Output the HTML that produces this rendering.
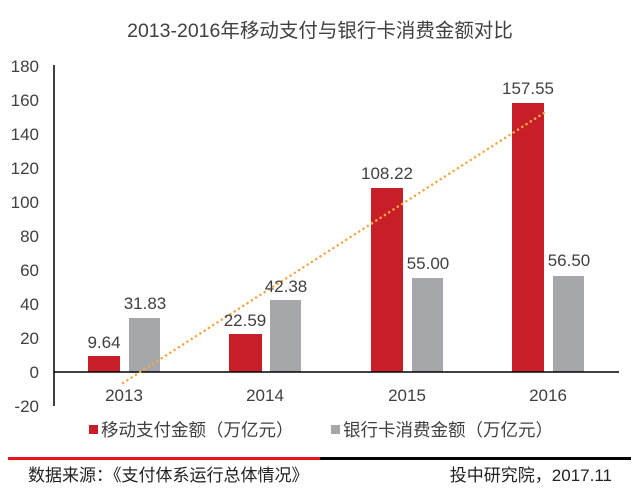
<!DOCTYPE html>
<html><head><meta charset="utf-8"><style>
html,body{margin:0;padding:0;background:#fff;}
svg{display:block;font-family:"Liberation Sans","Noto Sans CJK SC",sans-serif;}
</style></head><body>
<svg width="640" height="492" viewBox="0 0 640 492">
<text x="320" y="37" text-anchor="middle" font-size="19.5" fill="#404040">2013-2016年移动支付与银行卡消费金额对比</text>
<g font-size="17" fill="#404040" text-anchor="end">
<text x="39" y="72">180</text><text x="39" y="106">160</text><text x="39" y="140">140</text>
<text x="39" y="174">120</text><text x="39" y="208">100</text><text x="39" y="242">80</text>
<text x="39" y="276">60</text><text x="39" y="310">40</text><text x="39" y="344">20</text>
<text x="39" y="378">0</text><text x="39" y="412">-20</text>
</g>
<line x1="54" y1="65" x2="54" y2="406" stroke="#000" stroke-width="1.5"/>
<g fill="#c81e28">
<rect x="88" y="356" width="32" height="16"/>
<rect x="229" y="334" width="33" height="38"/>
<rect x="371" y="188" width="32" height="184"/>
<rect x="512" y="103" width="32" height="269"/>
</g>
<g fill="#a6a7ab">
<rect x="129" y="318" width="31" height="54"/>
<rect x="270" y="300" width="31" height="72"/>
<rect x="412" y="278" width="31" height="94"/>
<rect x="553" y="276" width="31" height="96"/>
</g>
<line x1="54" y1="372" x2="619" y2="372" stroke="#000" stroke-width="1.5"/>
<line x1="123" y1="383" x2="547" y2="111" stroke="#f0a848" stroke-width="2.5" stroke-dasharray="0.1 5" stroke-linecap="round"/>
<g font-size="17" fill="#404040" text-anchor="middle">
<text x="104" y="348">9.64</text><text x="145" y="309">31.83</text>
<text x="245" y="326">22.59</text><text x="286" y="292">42.38</text>
<text x="387" y="179">108.22</text><text x="428" y="269">55.00</text>
<text x="528" y="94">157.55</text><text x="569" y="266">56.50</text>
<text x="124" y="401">2013</text><text x="265" y="401">2014</text>
<text x="407" y="401">2015</text><text x="548" y="401">2016</text>
</g>
<rect x="89" y="425" width="9" height="9" fill="#c81e28"/>
<text x="101" y="436" font-size="17.5" fill="#404040">移动支付金额（万亿元）</text>
<rect x="331" y="425" width="9" height="9" fill="#a6a7ab"/>
<text x="343" y="436" font-size="17.5" fill="#404040">银行卡消费金额（万亿元）</text>
<rect x="8" y="457" width="312" height="3" fill="#e8141c"/>
<rect x="320" y="457" width="311" height="3" fill="#000"/>
<text x="28" y="481" font-size="17" fill="#222">数据来源：《支付体系运行总体情况》</text>
<text x="612" y="481" font-size="17" fill="#222" text-anchor="end">投中研究院，2017.11</text>
</svg>
</body></html>
